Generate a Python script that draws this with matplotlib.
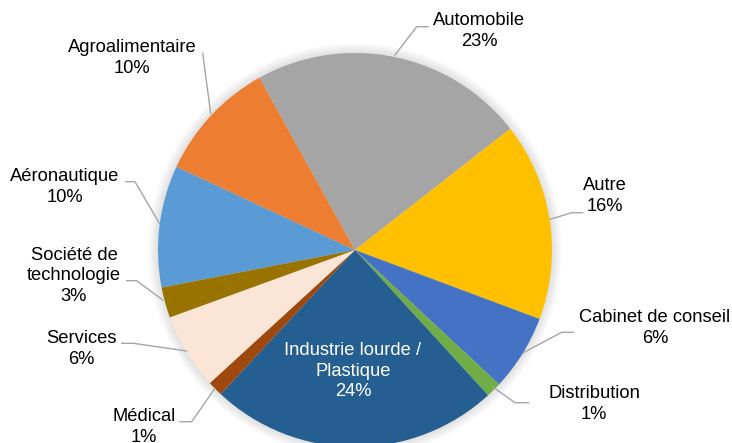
import matplotlib
matplotlib.use("Agg")
import matplotlib.pyplot as plt
from matplotlib.patches import Circle

# sector counts (clockwise, starting with Aéronautique)
sectors = [
    "Aéronautique",
    "Agroalimentaire",
    "Automobile",
    "Autre",
    "Cabinet de conseil",
    "Distribution",
    "Industrie lourde /\nPlastique",
    "Médical",
    "Services",
    "Société de\ntechnologie",
]
counts = [8, 8, 18, 13, 5, 1, 19, 1, 5, 2]
colors = [
    "#5B9BD5", "#ED7D31", "#A5A5A5", "#FFC000", "#4472C4",
    "#70AD47", "#255E91", "#9E480E", "#FBE5D6", "#997300",
]

W, H = 732, 443
cx, cy, r = 355, H - 250, 197

# label placement (pixel coords, y from top) and leader lines
label_pos = [
    (65, 187), (132, 58), (479, 31), (605, 196), (655, 328),
    (594, 404), (353, 371), (144, 427), (81, 349), (74, 276),
]
leaders = [
    [(126, 181.7), (135, 181.7), (159.3, 223.3)],
    [(202.7, 53.3), (210.7, 113.3)],
    [(428, 26.7), (416.7, 26.7), (395, 55)],
    [(582.7, 212.7), (571.7, 212.7), (550, 219.3)],
    [(573.3, 332.3), (561.7, 332.3), (523.3, 352.7)],
    [(528.3, 402.7), (515, 402.7), (493.3, 387.3)],
    None,
    [(180, 421.7), (191.7, 421.7), (215, 388.3)],
    [(121.7, 343.3), (133.3, 343.3), (186.7, 351)],
    [(126.7, 280.7), (136.7, 280.7), (162.7, 300)],
]

fig = plt.figure(figsize=(W / 100, H / 100), dpi=100)
ax = fig.add_axes([0, 0, 1, 1])

# soft shadow around the pie
for i in range(1, 11):
    ax.add_patch(Circle((cx, cy), r + i, color="black", alpha=0.012, lw=0, zorder=0))

ax.pie(counts, colors=colors, startangle=191, counterclock=False,
       center=(cx, cy), radius=r, wedgeprops=dict(linewidth=0, zorder=1))

total = sum(counts)
for name, val, (lx, ly), lead in zip(sectors, counts, label_pos, leaders):
    pct = int(100 * val / total + 0.5)
    txt_color = "white" if name.startswith("Industrie") else "black"
    ax.text(lx, H - ly, f"{name}\n{pct}%", ha="center", va="center",
            fontsize=13.2, family="Liberation Sans", color=txt_color,
            linespacing=1.27, zorder=5)
    if lead:
        xs = [p[0] for p in lead]
        ys = [H - p[1] for p in lead]
        ax.plot(xs, ys, color="#A6A6A6", lw=1.0, zorder=4)

ax.set_xlim(0, W)
ax.set_ylim(0, H)
ax.set_aspect("equal")
ax.axis("off")

fig.savefig("out.png", dpi=100)
